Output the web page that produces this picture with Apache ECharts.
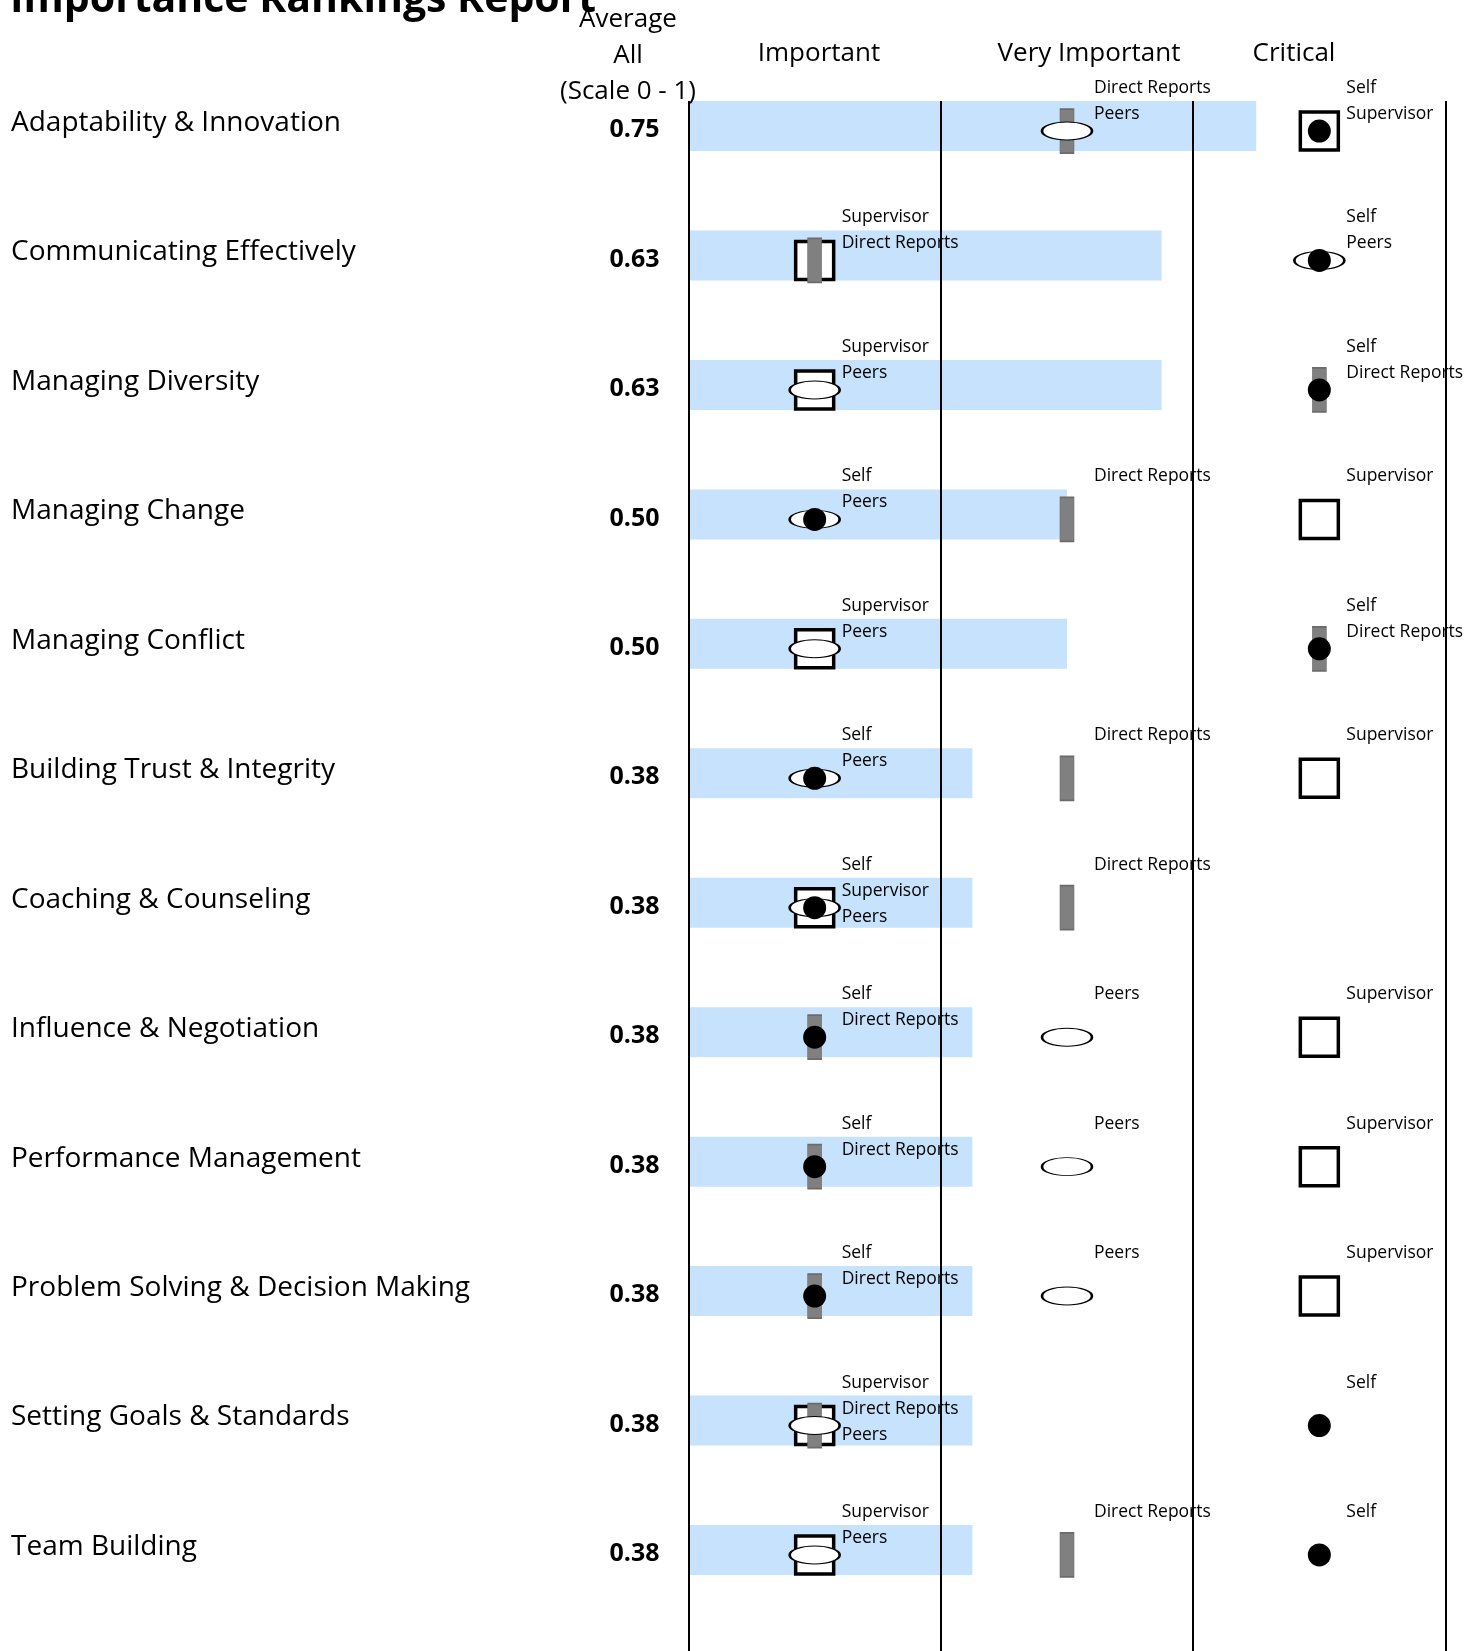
<!DOCTYPE html>
<html>
<head>
<meta charset="utf-8">
<script src="https://cdn.jsdelivr.net/npm/echarts@6/dist/echarts.min.js"></script>
<style>
  html, body { margin: 0; padding: 0; background: #fff; }
  #chart { width: 1477px; height: 1651px; }
</style>
</head>
<body>
<div id="chart"></div>
<script>
const competencies = [
  'Adaptability & Innovation', 'Communicating Effectively', 'Managing Diversity',
  'Managing Change', 'Managing Conflict', 'Building Trust & Integrity',
  'Coaching & Counseling', 'Influence & Negotiation', 'Performance Management',
  'Problem Solving & Decision Making', 'Setting Goals & Standards', 'Team Building'
]
const averageAll = [0.75, 0.625, 0.625, 0.5, 0.5, 0.375, 0.375, 0.375, 0.375, 0.375, 0.375, 0.375]
const levels = ['Important', 'Very Important', 'Critical']
const raters = ['Self', 'Supervisor', 'Direct Reports', 'Peers']

const selfRating = ['Critical', 'Critical', 'Critical', 'Important', 'Critical', 'Important',
  'Important', 'Important', 'Important', 'Important', 'Critical', 'Critical']
const supervisorRating = ['Critical', 'Important', 'Important', 'Critical', 'Important', 'Critical',
  'Important', 'Critical', 'Critical', 'Critical', 'Important', 'Important']
const directReportsRating = ['Very Important', 'Important', 'Critical', 'Very Important', 'Critical', 'Very Important',
  'Very Important', 'Important', 'Important', 'Important', 'Important', 'Very Important']
const peersRating = ['Very Important', 'Critical', 'Important', 'Important', 'Important', 'Important',
  'Important', 'Very Important', 'Very Important', 'Very Important', 'Important', 'Important']

const ratingsByRater = {
  'Self': selfRating,
  'Supervisor': supervisorRating,
  'Direct Reports': directReportsRating,
  'Peers': peersRating
}

const FONT = "'Open Sans', 'DejaVu Sans', sans-serif"

// rater names stacked above each marker, in rater order
let labelData = []
competencies.forEach((c, row) => {
  levels.forEach(level => {
    let idx = 0
    raters.forEach(r => {
      if (ratingsByRater[r][row] === level) {
        labelData.push([level, row, idx, r])
        idx++
      }
    })
  })
})

const points = (r) => ratingsByRater[r].map((lvl, row) => [lvl, row])

const chart = echarts.init(document.getElementById('chart'))

const option = {
  animation: false,
  backgroundColor: '#fff',
  textStyle: { fontFamily: FONT },
  grid: [
    { left: 688.5, right: 31.5, top: 61.3, height: 1553.4, containLabel: false, outerBoundsMode: 'none' },
    { left: 688.5, right: 31.5, top: 101, bottom: 0, containLabel: false, outerBoundsMode: 'none' }
  ],
  xAxis: [
    { type: 'value', gridIndex: 0, min: 0, max: 1, show: false },
    { type: 'category', gridIndex: 0, data: levels, show: false },
    {
      type: 'value', gridIndex: 1, min: 0, max: 3, interval: 1, z: 3,
      axisLine: { show: false }, axisTick: { show: false }, axisLabel: { show: false },
      splitLine: { show: true, lineStyle: { color: '#000', width: 2 } }
    }
  ],
  yAxis: [
    {
      type: 'category', gridIndex: 0, position: 'left', data: competencies, inverse: true,
      axisLine: { show: false }, axisTick: { show: false },
      axisLabel: {
        interval: 0, align: 'left', margin: 677.5, color: '#000',
        formatter: '{a|{value}}',
        rich: { a: { fontSize: 28, fontFamily: FONT, color: '#000', padding: [0, 0, 6, 0] } }
      }
    },
    {
      type: 'category', gridIndex: 0, position: 'left', data: averageAll.map(v => v.toFixed(2)), inverse: true,
      axisLine: { show: false }, axisTick: { show: false },
      axisLabel: {
        interval: 0, align: 'center', margin: 54, color: '#000',
        formatter: '{b|{value}}',
        rich: { b: { fontSize: 25, fontWeight: 'bold', fontFamily: FONT, color: '#000', padding: [8, 0, 0, 0] } }
      }
    },
    { type: 'value', gridIndex: 1, show: false }
  ],
  graphic: [
    {
      type: 'text', x: 10, y: 0, z: 10,
      style: { text: 'Importance Rankings Report', font: 'bold 41px ' + FONT, fill: '#000', align: 'left', verticalAlign: 'middle' }
    },
    {
      type: 'text', x: 628, y: 55.5, z: 10,
      style: { text: 'Average\nAll\n(Scale 0 - 1)', font: '26px ' + FONT, lineHeight: 36, fill: '#000', align: 'center', verticalAlign: 'middle' }
    },
    {
      type: 'text', x: 819, y: 54, z: 10,
      style: { text: levels[0], font: '26px ' + FONT, fill: '#000', align: 'center', verticalAlign: 'middle' }
    },
    {
      type: 'text', x: 1089, y: 54, z: 10,
      style: { text: levels[1], font: '26px ' + FONT, fill: '#000', align: 'center', verticalAlign: 'middle' }
    },
    {
      type: 'text', x: 1294, y: 54, z: 10,
      style: { text: levels[2], font: '26px ' + FONT, fill: '#000', align: 'center', verticalAlign: 'middle' }
    }
  ],
  series: [
    {
      name: 'Average All',
      type: 'bar',
      xAxisIndex: 0,
      yAxisIndex: 0,
      data: averageAll,
      barWidth: 50,
      z: 2,
      itemStyle: { color: '#c6e2fc' },
      silent: true
    },
    {
      name: 'Supervisor',
      type: 'scatter',
      xAxisIndex: 1,
      yAxisIndex: 0,
      data: points('Supervisor'),
      symbol: 'rect',
      symbolSize: 38,
      symbolOffset: [0, 5],
      z: 4,
      itemStyle: { color: '#fff', borderColor: '#000', borderWidth: 3.5, opacity: 1 },
      silent: true
    },
    {
      name: 'Direct Reports',
      type: 'scatter',
      xAxisIndex: 1,
      yAxisIndex: 0,
      data: points('Direct Reports'),
      symbol: 'rect',
      symbolSize: [14, 44],
      symbolOffset: [0, 5],
      z: 5,
      itemStyle: { color: '#808080', borderColor: '#6b6b6b', borderWidth: 1, opacity: 1 },
      silent: true
    },
    {
      name: 'Peers',
      type: 'scatter',
      xAxisIndex: 1,
      yAxisIndex: 0,
      data: points('Peers'),
      symbol: 'circle',
      symbolSize: [50, 18],
      symbolOffset: [0, 5],
      z: 6,
      itemStyle: { color: '#fff', borderColor: '#000', borderWidth: 1.6, opacity: 1 },
      silent: true
    },
    {
      name: 'Self',
      type: 'scatter',
      xAxisIndex: 1,
      yAxisIndex: 0,
      data: points('Self'),
      symbol: 'circle',
      symbolSize: 23,
      symbolOffset: [0, 5],
      z: 7,
      itemStyle: { color: '#000', opacity: 1 },
      silent: true
    },
    {
      name: 'Rater labels',
      type: 'custom',
      xAxisIndex: 1,
      yAxisIndex: 0,
      z: 8,
      silent: true,
      data: labelData,
      renderItem: (params, api) => {
        const pt = api.coord([api.value(0), api.value(1)])
        const idx = api.value(2)
        return {
          type: 'text',
          x: pt[0] + 27,
          y: pt[1] - 38 + 26 * idx,
          style: {
            text: labelData[params.dataIndex][3],
            font: '17.5px ' + FONT,
            fill: '#000',
            align: 'left',
            verticalAlign: 'middle'
          }
        }
      }
    }
  ]
}

chart.setOption(option)
</script>
</body>
</html>
